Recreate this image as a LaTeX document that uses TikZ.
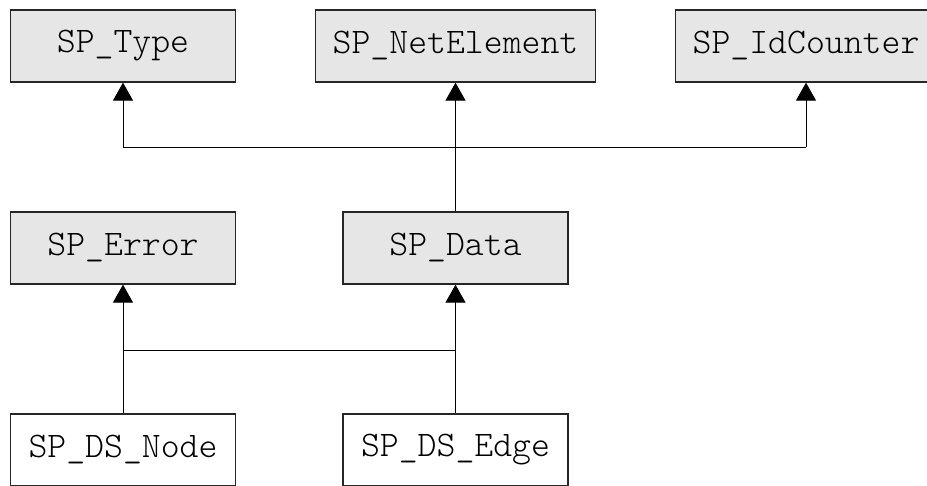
\documentclass[tikz,border=0pt]{standalone}
\usepackage{fontspec}
\newfontfamily\lighttt{Latin Modern Mono Light}
\usetikzlibrary{arrows.meta}
\definecolor{boxfill}{HTML}{E6E6E6}
\tikzset{
  cls/.style={draw=black!85, line width=1.3pt, minimum height=72pt, minimum width=225pt,
    inner ysep=0pt, inner xsep=17pt,
    font=\lighttt\fontsize{36}{40}\selectfont},
  gcls/.style={cls, fill=boxfill},
  wcls/.style={cls, fill=white},
  conn/.style={draw=black, line width=1pt},
  inh/.style={conn, -{Triangle[width=20pt,length=18pt]}}
}
\begin{document}
\begin{tikzpicture}[x=1pt,y=-1pt]
\useasboundingbox (0,0) rectangle (927,485);
\clip (0,0) rectangle (927,485);
\fill[white] (0,0) rectangle (927,485);
\node[gcls] (type) at (123,46) {SP\_Type};
\node[gcls] (net) at (455.5,46) {SP\_NetElement};
\node[gcls] (idc) at (806,46) {SP\_IdCounter};
\node[gcls] (err) at (123,248) {SP\_Error};
\node[gcls] (data) at (455.5,248) {SP\_Data};
\node[wcls] (dsn) at (123,450) {SP\_DS\_Node};
\node[wcls] (dse) at (455.5,450) {SP\_DS\_Edge};
\coordinate (t1) at (123,147);
\coordinate (t2) at (806,147);
\coordinate (b1) at (123,350);
\coordinate (b2) at (455.5,350);
\draw[inh] (data.north) -- (net.south);
\draw[conn] (t1) -- (t2);
\draw[inh] (t1) -- (type.south);
\draw[inh] (t2) -- (idc.south);
\draw[inh] (dsn.north) -- (err.south);
\draw[inh] (dse.north) -- (data.south);
\draw[conn] (b1) -- (b2);
\end{tikzpicture}
\end{document}
